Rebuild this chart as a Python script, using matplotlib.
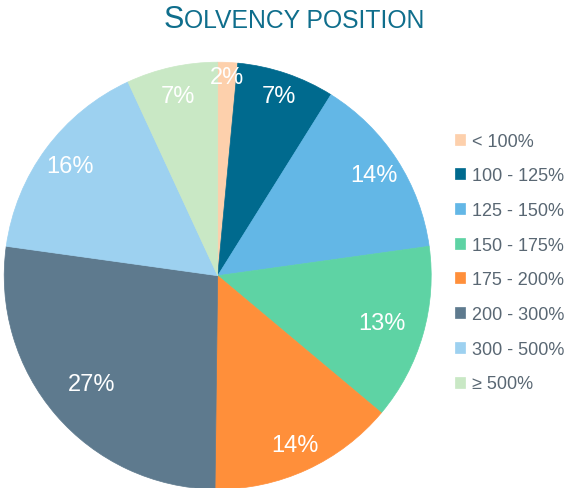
import matplotlib
matplotlib.use("Agg")
import matplotlib.pyplot as plt
import numpy as np

categories = ["< 100%", "100 - 125%", "125 - 150%", "150 - 175%",
              "175 - 200%", "200 - 300%", "300 - 500%", "≥ 500%"]
shares = [1.5, 7.4, 13.9, 13.3, 14.1, 27.0, 15.9, 6.9]
colors = ["#FDD0AC", "#006A8E", "#63B7E6", "#5ED3A4",
          "#FF8F3A", "#5E7A8E", "#9DD1F0", "#C9E8C5"]
label_dist = [0.93, 0.89, 0.87, 0.80, 0.87, 0.78, 0.86, 0.86]
title_first, title_rest = "S", "OLVENCY POSITION"

plt.rcParams['font.family'] = ['Liberation Sans', 'DejaVu Sans']

W, H = 569, 489
fig = plt.figure(figsize=(W / 100, H / 100), dpi=100)
cx, cy, r = 217.7, 276.7, 213.5
ax = fig.add_axes([(cx - r) / W, (H - cy - r) / H, 2 * r / W, 2 * r / H])

wedges, texts, autotexts = ax.pie(
    shares, colors=colors, startangle=90, counterclock=False, radius=1,
    autopct=lambda p: f"{p + 1e-6:.0f}%", pctdistance=0.86,
    textprops=dict(color='white', fontsize=17),
    wedgeprops=dict(linewidth=0))
for w, c in zip(wedges, colors):
    w.set_edgecolor(c)
    w.set_linewidth(0.5)
for w, t, d in zip(wedges, autotexts, label_dist):
    a = np.deg2rad((w.theta1 + w.theta2) / 2)
    t.set_position((d * np.cos(a), d * np.sin(a)))
ax.set_xlim(-1, 1)
ax.set_ylim(-1, 1)
ax.set_aspect('equal')
ax.axis('off')

leg = fig.legend(wedges, categories, loc='center left',
                 bbox_to_anchor=(455 / W, (H - 263.5) / H), frameon=False,
                 fontsize=13, handlelength=0.56, handleheight=0.56,
                 handletextpad=0.4, labelspacing=0.98, borderpad=0,
                 borderaxespad=0)
for t in leg.get_texts():
    t.set_color('#596773')

tcol = '#0F6E8C'
ty = (H - 27.7) / H
t1 = fig.text(160.7 / W, ty, title_first, fontsize=22, color=tcol, va='baseline', ha='left')
fig.canvas.draw()
bb = t1.get_window_extent()
t2 = fig.text(bb.x1 / W, ty, title_rest, fontsize=17.8, color=tcol, va='baseline', ha='left')
fig.canvas.draw()
bb2 = t2.get_window_extent()
shift = (293.7 - (bb.x0 + bb2.x1) / 2) / W
t1.set_x(t1.get_position()[0] + shift)
t2.set_x(t2.get_position()[0] + shift)

fig.savefig("out.png", dpi=100)
